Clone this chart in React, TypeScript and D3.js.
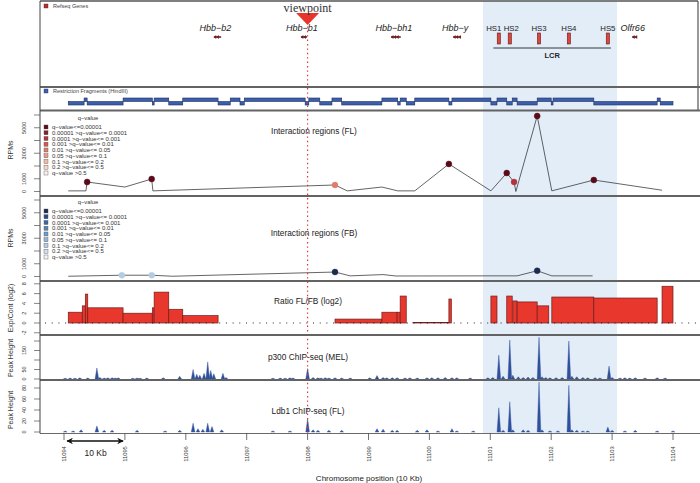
import * as d3 from 'd3';

// chromosome position in units of 10 Kb
const chromTicks = [11094, 11095, 11096, 11097, 11098, 11099, 11100, 11101, 11102, 11103, 11104];
const viewpoint = 11098;
const lcrRegion = [11100.88, 11103.08];

const geneNames = ['Hbb−b2', 'Hbb−b1', 'Hbb−bh1', 'Hbb−y', 'Olfr66'];
const geneStart = [11096.46, 11097.89, 11099.37, 11100.39, 11103.33];
const geneEnd = [11096.58, 11097.99, 11099.53, 11100.52, 11103.41];

const hsNames = ['HS1', 'HS2', 'HS3', 'HS4', 'HS5'];
const hsPos = [11101.14, 11101.32, 11101.8, 11102.29, 11102.93];

const fragBounds = [
  11094.07, 11094.33, 11094.38, 11094.97, 11095.45, 11095.48, 11095.72, 11095.95, 11096.53, 11096.73,
  11096.89, 11096.96, 11097.96, 11098.02, 11098.2, 11098.4, 11098.56, 11099.22, 11099.48, 11099.52,
  11099.62, 11099.76, 11100.32, 11100.37, 11101.01, 11101.11, 11101.27, 11101.36, 11101.44, 11101.77,
  11102.0, 11102.03, 11102.7, 11103.74, 11103.79, 11104.0,
];

// interaction regions: position, RPMs, q-value class (-1 = no dot)
const flPos = [11094.07, 11094.36, 11094.38, 11095.0, 11095.44, 11095.46, 11098.45, 11098.65, 11099.22, 11099.48, 11099.76, 11100.32, 11101.01, 11101.27, 11101.39, 11101.42, 11101.77, 11102.01, 11102.7, 11103.82];
const flRpm = [50, 50, 745, 350, 980, 50, 510, 50, 350, 50, 50, 2160, 50, 1450, 745, 0, 5920, 50, 900, 100];
const flClass = [-1, -1, 0, -1, 0, -1, 4, -1, -1, -1, -1, 0, -1, 0, 2, -1, 0, -1, 0, -1];

const fbPos = [11094.07, 11094.95, 11095.44, 11095.78, 11098.45, 11098.7, 11099.24, 11099.45, 11100.88, 11101.44, 11101.77, 11102.01, 11102.68];
const fbRpm = [20, 100, 100, 20, 350, 50, 150, 40, 50, 50, 450, 50, 50];
const fbClass = [-1, 6, 6, -1, 0, -1, -1, -1, -1, -1, 0, -1, -1];

const qLabels = [
  'q−value<=0.00001',
  '0.00001 >q−value<= 0.0001',
  '0.0001 >q−value<= 0.001',
  '0.001 >q−value<= 0.01',
  '0.01 >q−value<= 0.05',
  '0.05 >q−value<= 0.1',
  '0.1 >q−value<= 0.2',
  '0.2 >q−value<= 0.5',
  'q−value >0.5',
];
const flColors = ['#5a0a18', '#8a1c2b', '#b3313a', '#d4574f', '#e07c6c', '#e99d88', '#efbba8', '#f5d7cb', '#faf2ee'];
const fbColors = ['#1c2b4f', '#27498a', '#3566a5', '#4f82b8', '#6f9cc8', '#93b5d6', '#b4cbe2', '#d3dfef', '#f1f5fa'];

// ratio FL/FB (log2) bars
const ratioStart = [11094.07, 11094.3, 11094.35, 11094.39, 11094.97, 11095.45, 11095.48, 11095.72, 11095.95, 11098.45, 11099.22, 11099.47, 11099.52, 11099.73, 11100.32, 11101.01, 11101.27, 11101.37, 11101.44, 11101.77, 11102.01, 11102.7, 11103.82];
const ratioEnd = [11094.3, 11094.35, 11094.39, 11094.97, 11095.45, 11095.48, 11095.72, 11095.95, 11096.53, 11099.22, 11099.47, 11099.52, 11099.62, 11100.32, 11100.36, 11101.11, 11101.36, 11101.44, 11101.77, 11101.96, 11102.7, 11103.74, 11104.0];
const ratioValue = [2.2, 3.5, 5.9, 3.1, 2.0, 3.1, 6.3, 2.8, 1.5, 0.8, 2.2, 2.2, 5.5, 0.1, 4.9, 5.5, 5.5, 4.5, 4.3, 3.5, 5.3, 5.1, 7.5];

// ChIP-seq peaks: [position, height]
const p300Peaks = [
  [11094.02, 4], [11094.1, 5], [11094.18, 4], [11094.26, 6], [11094.39, 5], [11094.54, 58], [11094.59, 8], [11094.66, 5],
  [11094.72, 6], [11094.79, 7], [11094.84, 5], [11094.89, 6], [11095.13, 4], [11095.2, 5], [11095.25, 4], [11095.36, 5],
  [11095.63, 6], [11095.9, 14], [11096.12, 50], [11096.18, 25], [11096.23, 20], [11096.3, 30], [11096.36, 90], [11096.41, 45],
  [11096.46, 28], [11096.61, 30], [11096.66, 8], [11097.43, 4], [11097.55, 5], [11097.63, 4], [11097.71, 6], [11097.76, 5],
  [11098.0, 55], [11098.09, 8], [11098.17, 6], [11098.22, 5], [11098.29, 7], [11098.35, 5], [11098.45, 6], [11098.56, 5],
  [11098.7, 5], [11099.02, 6], [11099.14, 18], [11099.24, 8], [11099.3, 6], [11099.39, 7], [11099.47, 6], [11099.6, 5],
  [11099.68, 6], [11099.8, 5], [11099.96, 6], [11100.04, 7], [11100.14, 6], [11100.26, 8], [11100.37, 7], [11100.45, 6],
  [11100.67, 5], [11100.96, 6], [11101.04, 8], [11101.14, 126], [11101.21, 15], [11101.32, 205], [11101.37, 20], [11101.46, 12],
  [11101.54, 8], [11101.62, 10], [11101.7, 8], [11101.8, 220], [11101.85, 12], [11101.91, 8], [11101.98, 6], [11102.08, 7],
  [11102.18, 8], [11102.29, 200], [11102.34, 15], [11102.42, 12], [11102.52, 8], [11102.6, 6], [11102.72, 7], [11102.8, 5],
  [11102.95, 68], [11103.0, 8], [11103.13, 5], [11103.21, 6], [11103.29, 5], [11103.38, 6], [11103.54, 5], [11103.74, 6],
  [11103.87, 5],
];
const ldb1Peaks = [
  [11094.02, 2], [11094.15, 2], [11094.28, 4], [11094.54, 11], [11094.66, 3], [11094.79, 3], [11095.2, 3], [11095.66, 2],
  [11095.9, 3], [11096.12, 16], [11096.2, 6], [11096.28, 5], [11096.36, 16], [11096.43, 10], [11096.59, 4], [11097.43, 2],
  [11097.71, 2], [11098.0, 24], [11098.09, 4], [11098.17, 3], [11098.35, 3], [11098.56, 3], [11099.14, 6], [11099.24, 5],
  [11099.39, 3], [11099.47, 3], [11099.8, 3], [11099.96, 4], [11100.14, 2], [11100.37, 6], [11100.45, 2], [11100.72, 2],
  [11101.14, 44], [11101.21, 3], [11101.32, 55], [11101.37, 4], [11101.54, 4], [11101.62, 3], [11101.8, 91], [11101.85, 4],
  [11101.98, 2], [11102.11, 2], [11102.29, 85], [11102.34, 4], [11102.42, 3], [11102.52, 2], [11102.6, 2], [11102.93, 9],
  [11103.0, 3], [11103.21, 2], [11103.38, 3], [11103.74, 2], [11104.0, 2],
];

const flTicks = [0, 1000, 2000, 3000, 4000, 5000, 6000];
const flTickLabels = [0, 1000, 3000, 5000];
const ratioTicks = [-2, 0, 2, 4, 6, 8];
const p300Ticks = [0, 50, 100, 150, 200];
const p300TickLabels = [0, 50, 150];
const ldb1Ticks = [0, 20, 40, 60, 80];

const FONT = '"Liberation Sans", Arial, sans-serif';
const LEFT = 40;
const RIGHT = 698;

const x = d3.scaleLinear().domain([11094, 11104]).range([64, 673]);
const yFL = d3.scaleLinear().domain([0, 6000]).range([191.5, 115]);
const yFB = d3.scaleLinear().domain([0, 6000]).range([276.5, 200]);
const yRatio = d3.scaleLinear().domain([-2, 8]).range([332.8, 283.8]);
const yP300 = d3.scaleLinear().domain([0, 200]).range([379, 341]);
const yLdb1 = d3.scaleLinear().domain([0, 80]).range([432, 388]);

function YAxis({ scale, ticks, labels }) {
  return (
    <g>
      {ticks.map((t) => (
        <line key={'t' + t} x1={34} x2={LEFT} y1={scale(t)} y2={scale(t)} stroke="#333" strokeWidth={0.6} />
      ))}
      {labels.map((t) => (
        <text key={'l' + t} transform={`translate(26,${scale(t)}) rotate(-90)`} textAnchor="middle"
          fontSize={5.5} fill="#333" fontFamily={FONT}>{t}</text>
      ))}
    </g>
  );
}

function Legend({ top, colors }) {
  return (
    <g fontFamily={FONT} fill="#333">
      <text x={88} y={top} textAnchor="middle" fontSize={5.8}>q−value</text>
      {qLabels.map((l, i) => (
        <g key={l}>
          <rect x={44} y={top + 5 + i * 5.75} width={4} height={4} fill={colors[i]} stroke="#555" strokeWidth={0.4} />
          <text x={52} y={top + 9 + i * 5.75} fontSize={6}>{l}</text>
        </g>
      ))}
    </g>
  );
}

function Interaction({ pos, rpm, cls, colors, y }) {
  const pts = pos.map((p, i) => [x(p), y(rpm[i])]);
  const line = d3.line()(pts);
  return (
    <g>
      <path d={line} fill="none" stroke="#222" strokeWidth={0.7} />
      {pos.map((p, i) => cls[i] >= 0 && (
        <circle key={i} cx={x(p)} cy={y(rpm[i])} r={3} fill={colors[cls[i]]} stroke={colors[cls[i]]} strokeWidth={0.4} />
      ))}
    </g>
  );
}

function Peaks({ data, y }) {
  const line = d3.line();
  return (
    <g>
      {data.map(([p, h], i) => (
        <path key={i} d={line([[x(p - 0.03), y(0)], [x(p), y(h)], [x(p + 0.03), y(0)]]) + 'Z'}
          fill="#2f509d" stroke="#2f509d" strokeWidth={0.4} />
      ))}
    </g>
  );
}

export default function App() {
  const vx = x(viewpoint);
  const frags = d3.pairs(fragBounds);
  const sepY = [87, 110.5, 196, 281, 335, 380];
  return (
    <div style={{ position: 'fixed', left: 0, top: 0 }}>
      <svg width={700} height={483} style={{ display: 'block', background: '#fff' }}>
        {/* LCR shaded region */}
        <rect x={x(lcrRegion[0])} y={1} width={x(lcrRegion[1]) - x(lcrRegion[0])} height={432} fill="#e3edf8" />

        {/* gene track */}
        <rect x={44} y={4} width={4} height={4} fill="#b03030" stroke="#6b1a1a" strokeWidth={0.4} />
        <text x={53} y={8} fontSize={5.5} fill="#444" fontFamily={FONT}>Refseq Genes</text>
        {geneNames.map((g, i) => {
          const x0 = x(geneStart[i]);
          const x1 = x(geneEnd[i]);
          const cx = (x0 + x1) / 2;
          const n = Math.max(2, Math.round((x1 - x0) / 3));
          return (
            <g key={g}>
              <text x={cx - 2} y={31} textAnchor="middle" fontSize={9} fontStyle="italic" fill="#222" fontFamily={FONT}>{g}</text>
              <line x1={x0} x2={x1} y1={37} y2={37} stroke="#6b1f1f" strokeWidth={1.6} />
              {d3.range(n).map((k) => {
                const ax = x0 + k * 2.6;
                return <path key={k} d={`M${ax},37 L${ax + 2.4},35 L${ax + 2.4},39 Z`} fill="#6b1f1f" />;
              })}
            </g>
          );
        })}
        {hsNames.map((h, i) => (
          <g key={h}>
            <text x={x(hsPos[i]) + (i === 0 ? -5 : i === 1 ? 1.5 : 0)} y={30.5} textAnchor="middle" fontSize={7.8}
              fill="#222" fontFamily={FONT}>{h}</text>
            <rect x={x(hsPos[i]) - 1.6} y={33} width={3.2} height={11} fill="#d9463a" stroke="#6b1a1a" strokeWidth={0.6} />
          </g>
        ))}
        <line x1={x(11101.05)} x2={x(11102.98)} y1={48} y2={48} stroke="#222" strokeWidth={0.9} />
        <text x={(x(11101.05) + x(11102.98)) / 2} y={58} textAnchor="middle" fontSize={7.5} fontWeight="bold" fill="#222" fontFamily={FONT}>LCR</text>

        {/* restriction fragments */}
        <rect x={44} y={89} width={4} height={4} fill="#3d5ea8" stroke="#1f3670" strokeWidth={0.4} />
        <text x={53} y={93} fontSize={5.5} fill="#444" fontFamily={FONT}>Restriction Fragments (HindIII)</text>
        {frags.map(([a, b], i) => (
          <rect key={i} x={x(a)} y={i % 2 === 0 ? 101.5 : 98} width={x(b) - x(a)} height={3.5}
            fill="#3d5ea8" stroke="#1c2f66" strokeWidth={0.6} />
        ))}

        {/* interaction regions FL */}
        <text x={314} y={134} textAnchor="middle" fontSize={8.3} fill="#222" fontFamily={FONT}>Interaction regions (FL)</text>
        <Legend top={120} colors={flColors} />
        <Interaction pos={flPos} rpm={flRpm} cls={flClass} colors={flColors} y={yFL} />
        <YAxis scale={yFL} ticks={flTicks} labels={flTickLabels} />

        {/* interaction regions FB */}
        <text x={314} y={236} textAnchor="middle" fontSize={8.3} fill="#222" fontFamily={FONT}>Interaction regions (FB)</text>
        <Legend top={204} colors={fbColors} />
        <Interaction pos={fbPos} rpm={fbRpm} cls={fbClass} colors={fbColors} y={yFB} />
        <YAxis scale={yFB} ticks={flTicks} labels={flTickLabels} />

        {/* ratio */}
        <text x={308} y={304} textAnchor="middle" fontSize={8.3} fill="#222" fontFamily={FONT}>Ratio FL/FB (log2)</text>
        {ratioStart.map((s, i) => (
          <rect key={i} x={x(s)} y={yRatio(ratioValue[i])} width={x(ratioEnd[i]) - x(s)}
            height={yRatio(0) - yRatio(ratioValue[i])} fill="#e8372c" stroke="#6e1c1c" strokeWidth={0.7} />
        ))}
        <line x1={45} x2={700} y1={yRatio(0)} y2={yRatio(0)} stroke="#222" strokeWidth={1.1} strokeDasharray="1 5.7" />
        <YAxis scale={yRatio} ticks={ratioTicks} labels={ratioTicks} />

        {/* p300 */}
        <text x={308} y={360} textAnchor="middle" fontSize={8.3} fill="#222" fontFamily={FONT}>p300 ChIP-seq (MEL)</text>
        <Peaks data={p300Peaks} y={yP300} />
        <YAxis scale={yP300} ticks={p300Ticks} labels={p300TickLabels} />

        {/* Ldb1 */}
        <text x={308} y={414} textAnchor="middle" fontSize={8.3} fill="#222" fontFamily={FONT}>Ldb1 ChIP-seq (FL)</text>
        <Peaks data={ldb1Peaks} y={yLdb1} />
        <YAxis scale={yLdb1} ticks={ldb1Ticks} labels={ldb1Ticks} />

        {/* viewpoint */}
        <line x1={vx} x2={vx} y1={22} y2={434} stroke="#e0352b" strokeWidth={1.2} strokeDasharray="1.4 3" />
        <path d={`M${vx - 11.5},13 L${vx + 11.5},13 L${vx},25 Z`} fill="#e8352b" />
        <text x={vx} y={12} textAnchor="middle" fontSize={12} fill="#333" fontFamily='"Liberation Serif", "Times New Roman", serif'>viewpoint</text>

        {/* frames */}
        <line x1={LEFT} x2={RIGHT} y1={1} y2={1} stroke="#555" strokeWidth={1.5} />
        <line x1={RIGHT} x2={RIGHT} y1={1} y2={110.5} stroke="#555" strokeWidth={1.2} />
        {sepY.map((s) => (
          <line key={s} x1={LEFT} x2={700} y1={s} y2={s} stroke="#636363" strokeWidth={2.2} />
        ))}
        <line x1={LEFT} x2={LEFT} y1={1} y2={433.5} stroke="#444" strokeWidth={1} />
        <line x1={LEFT} x2={700} y1={433.5} y2={433.5} stroke="#444" strokeWidth={0.8} />

        {/* x axis */}
        {chromTicks.map((t) => (
          <g key={t}>
            <line x1={x(t)} x2={x(t)} y1={433.5} y2={440} stroke="#333" strokeWidth={0.7} />
            <text transform={`translate(${x(t) + 2},454) rotate(-90)`} textAnchor="middle" fontSize={5.8} fill="#333" fontFamily={FONT}>{t}</text>
          </g>
        ))}
        <defs>
          <marker id="ah" viewBox="0 0 10 10" refX={9} refY={5} markerWidth={5} markerHeight={5} orient="auto-start-reverse">
            <path d="M0,0 L10,5 L0,10 L3,5 Z" fill="#111" />
          </marker>
        </defs>
        <line x1={x(11094.05)} x2={x(11094.97)} y1={441} y2={441} stroke="#111" strokeWidth={1.3}
          markerStart="url(#ah)" markerEnd="url(#ah)" />
        <text x={x(11094.52)} y={456} textAnchor="middle" fontSize={8.5} fill="#222" fontFamily={FONT}>10 Kb</text>
        <text x={369} y={481} textAnchor="middle" fontSize={8} fill="#222" fontFamily={FONT}>Chromosome position (10 Kb)</text>

        {/* y axis titles */}
        <text transform="translate(13,150) rotate(-90)" textAnchor="middle" fontSize={7} fill="#333" fontFamily={FONT}>RPMs</text>
        <text transform="translate(13,238) rotate(-90)" textAnchor="middle" fontSize={7} fill="#333" fontFamily={FONT}>RPMs</text>
        <text transform="translate(13,308) rotate(-90)" textAnchor="middle" fontSize={7} fill="#333" fontFamily={FONT}>Exp/Cont (log2)</text>
        <text transform="translate(13,358) rotate(-90)" textAnchor="middle" fontSize={7} fill="#333" fontFamily={FONT}>Peak Height</text>
        <text transform="translate(13,410) rotate(-90)" textAnchor="middle" fontSize={7} fill="#333" fontFamily={FONT}>Peak Height</text>
      </svg>
    </div>
  );
}
